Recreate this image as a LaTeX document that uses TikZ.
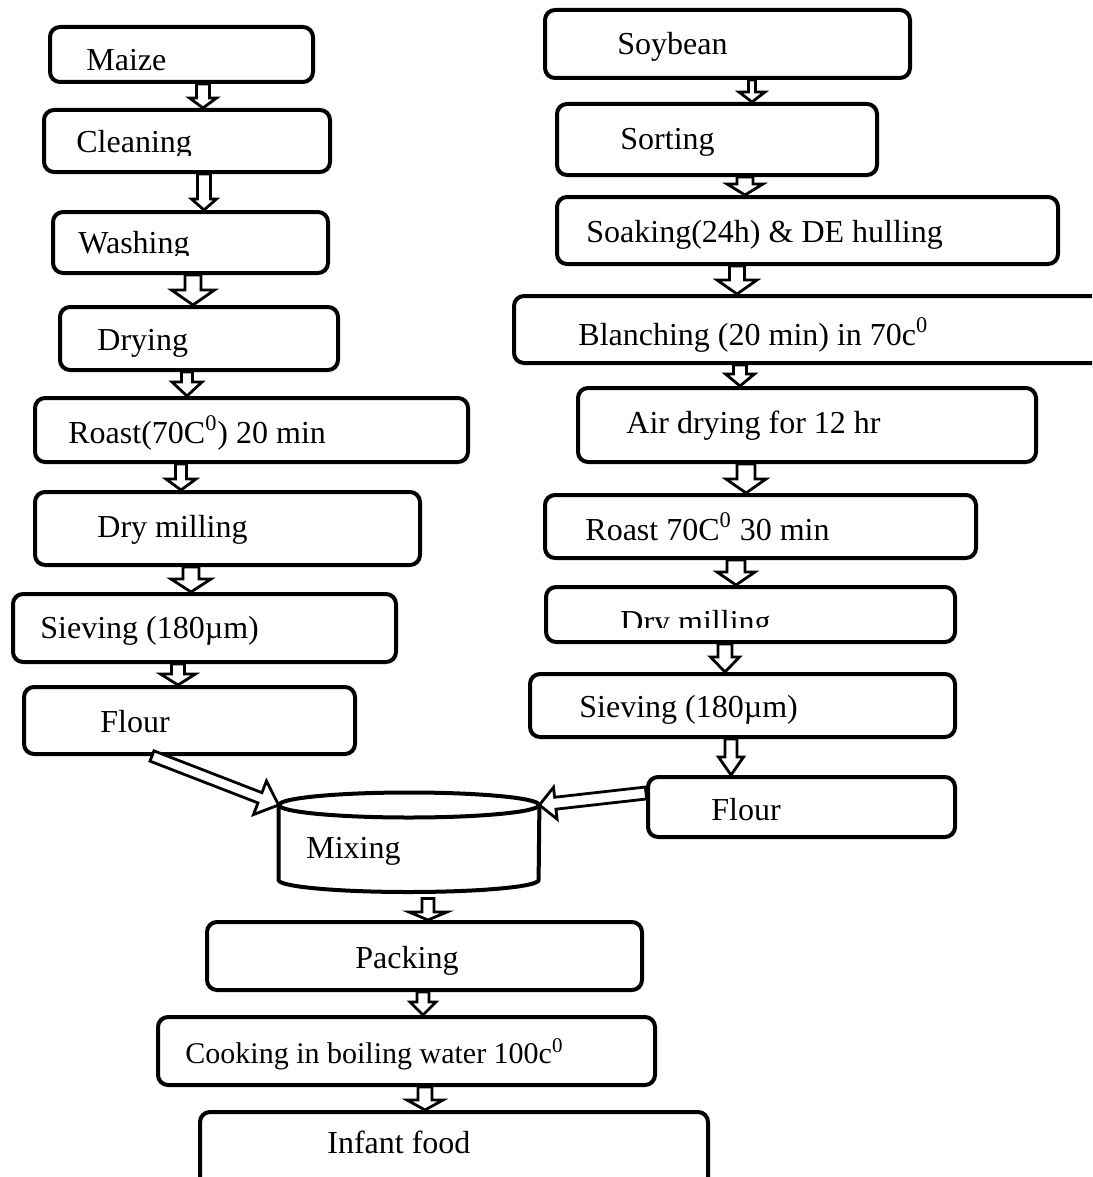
\documentclass[tikz,border=0pt]{standalone}
\usepackage{fontspec}
\setmainfont{Liberation Serif}
\usetikzlibrary{calc}
\pgfdeclarelayer{bg}
\pgfsetlayers{bg,main}
\tikzset{
  box/.style={draw, line width=2pt, rounded corners=5pt, fill=white, inner sep=0pt},
  lbl/.style={inner sep=0pt, anchor=base west, font=\fontsize{16}{19}\selectfont},
  barrowline/.style={draw, line width=1.4pt, fill=white, line join=miter},
  cyl/.style={draw, line width=2pt, fill=white},
}
\newcommand\mkbox[5]{\node[box, minimum width={(#4-#2)*0.5pt}, minimum height={(#5-#3)*0.5pt}] (#1) at ({(#2+#4)/2},{(#3+#5)/2}) {};}
\newcommand\mktext[4]{\node[lbl] (#1) at (#2,#3) {#4};}
\newcommand\blockarrow[5]{%
  \path[barrowline] let \p1=(#1), \p2=(#2), \n1={atan2(\y2-\y1,\x2-\x1)} in
    ($(\p1)+(\n1+90:#3)$) -- ($(\p2)+(\n1:-#5)+(\n1+90:#3)$) -- ($(\p2)+(\n1:-#5)+(\n1+90:#4)$) -- (\p2)
    -- ($(\p2)+(\n1:-#5)+(\n1-90:#4)$) -- ($(\p2)+(\n1:-#5)+(\n1-90:#3)$) -- ($(\p1)+(\n1-90:#3)$) -- cycle;}
\begin{document}
\begin{tikzpicture}[x=0.5pt, y=-0.5pt]
\useasboundingbox (0,0) rectangle (1092,1177);
\clip (0,0) rectangle (1092,1177);
\begin{pgfonlayer}{bg}
\fill[white] (0,0) rectangle (1092,1177);
\end{pgfonlayer}
% ---------- boxes ----------
% left column
\mkbox{maize}{50}{27}{313}{82}
\mkbox{cleaning}{44}{110}{330}{172}
\mkbox{washing}{53}{212}{328}{273}
\mkbox{drying}{60}{307}{338}{370}
\mkbox{roast}{35}{398}{468}{462}
\mkbox{milling}{35}{492}{420}{565}
\mkbox{sieving}{13}{594}{396}{662}
\mkbox{flourL}{24}{687}{355}{754}
% right column
\mkbox{soybean}{545}{10}{910}{78}
\mkbox{sorting}{557}{104}{877}{175}
\mkbox{soaking}{557}{197}{1058}{264}
\mkbox{blanching}{514}{296}{1120}{363}
\mkbox{airdry}{578}{388}{1036}{462}
\mkbox{roastR}{545}{495}{976}{558}
\mkbox{millR}{546}{587}{955}{642}
\mkbox{sieveR}{530}{674}{955}{737}
\mkbox{flourR}{648}{777}{955}{837}
% bottom
\mkbox{packing}{207}{922}{642}{990}
\mkbox{cooking}{158}{1017}{655}{1085}
\mkbox{infant}{200}{1112}{708}{1200}
\node[inner sep=0pt, minimum width=130pt, minimum height=50pt] (mix) at (409,842) {};
% ---------- vertical block arrows (behind the boxes) ----------
\begin{pgfonlayer}{bg}
\blockarrow{maize.south -| 203,0}{cleaning.north -| 203,0}{3.25pt}{6.75pt}{5pt}
\blockarrow{cleaning.south -| 204,0}{washing.north -| 204,0}{3.25pt}{6.25pt}{5.5pt}
\blockarrow{washing.south -| 193,0}{drying.north -| 193,0}{4pt}{10.75pt}{7.5pt}
\blockarrow{drying.south -| 187,0}{roast.north -| 187,0}{2.75pt}{7.5pt}{7pt}
\blockarrow{roast.south -| 181,0}{milling.north -| 181,0}{2.75pt}{7.5pt}{5.5pt}
\blockarrow{milling.south -| 191,0}{sieving.north -| 191,0}{4pt}{10pt}{6.5pt}
\blockarrow{sieving.south -| 178,0}{flourL.north -| 178,0}{3.25pt}{8.75pt}{5.5pt}
\blockarrow{soybean.south -| 752,0}{sorting.north -| 752,0}{1.75pt}{6.5pt}{5pt}
\blockarrow{sorting.south -| 745,0}{soaking.north -| 745,0}{4pt}{9pt}{5.5pt}
\blockarrow{soaking.south -| 737,0}{blanching.north -| 737,0}{3.75pt}{10pt}{7pt}
\blockarrow{blanching.south -| 740,0}{airdry.north -| 740,0}{3.25pt}{7.25pt}{6pt}
\blockarrow{airdry.south -| 746,0}{roastR.north -| 746,0}{4.5pt}{10pt}{7pt}
\blockarrow{roastR.south -| 736,0}{millR.north -| 736,0}{4.5pt}{9.5pt}{6.5pt}
\blockarrow{millR.south -| 725,0}{sieveR.north -| 725,0}{3.5pt}{7.25pt}{7.5pt}
\blockarrow{sieveR.south -| 731,0}{flourR.north -| 731,0}{3pt}{6.25pt}{9pt}
\blockarrow{$(mix.south -| 428,0)+(0,-3pt)$}{packing.north -| 428,0}{3pt}{9.5pt}{4pt}
\blockarrow{packing.south -| 423,0}{cooking.north -| 423,0}{3pt}{6.5pt}{6.5pt}
\blockarrow{cooking.south -| 425,0}{infant.north -| 425,0}{3.5pt}{9pt}{5pt}
\end{pgfonlayer}
% ---------- texts ----------
\mktext{maizeT}{86}{70.5}{Maize}
\begin{scope}
  \clip (44,110) rectangle (330,155.5);
  \mktext{cleanT}{76}{153}{Cleaning}
\end{scope}
\begin{scope}
  \clip (53,212) rectangle (328,255);
  \mktext{washT}{78}{253}{Washing}
\end{scope}
\mktext{dryT}{97}{350}{Drying}
\mktext{roastT}{68}{443}{Roast(70C\textsuperscript{0}) 20 min}
\mktext{millT}{97}{537}{Dry milling}
\mktext{sieveT}{40}{638}{Sieving (180µm)}
\mktext{flourLT}{100}{732}{Flour}
\mktext{soyT}{617}{55}{Soybean}
\mktext{sortT}{620}{149}{Sorting}
\mktext{soakT}{586}{242}{Soaking(24h) \& DE hulling}
\mktext{blanchT}{578}{345}{Blanching (20 min) in 70c\textsuperscript{0}}
\mktext{airT}{626}{433}{Air drying for 12 hr}
\mktext{roastRT}{585}{540}{Roast 70C\textsuperscript{0} 30 min}
\begin{scope}
  \clip (546,587) rectangle (955,627);
  \mktext{millRT}{620}{632}{Dry milling}
\end{scope}
\mktext{sieveRT}{579}{717}{Sieving (180µm)}
\mktext{flourRT}{711}{820}{Flour}
% ---------- mixing cylinder ----------
\path[cyl] (mix.west |- 0,805) -- (mix.west |- 0,880)
  arc[start angle=180, end angle=360, x radius=65pt, y radius=6pt]
  -- (mix.east |- 0,805) -- cycle;
\draw[cyl] (mix.center |- 0,805) ellipse [x radius=65pt, y radius=6.25pt];
\mktext{mixT}{306}{858}{Mixing}
\mktext{packT}{355}{968}{Packing}
\node[lbl, font=\fontsize{15}{18}\selectfont] (cookT) at (185,1063) {Cooking in boiling water 100c\textsuperscript{0}};
\mktext{infantT}{327}{1153}{Infant food}
% ---------- diagonal arrows into mixing ----------
\blockarrow{flourL.south -| 152,0}{mix.west |- 0,805}{2.75pt}{9pt}{10pt}
\blockarrow{flourR.west |- 0,793}{mix.east |- 0,805}{3pt}{8pt}{8pt}
\end{tikzpicture}
\end{document}
